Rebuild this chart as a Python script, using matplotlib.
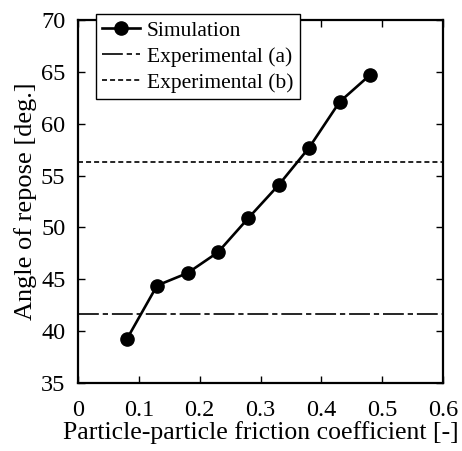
import matplotlib
matplotlib.use("Agg")
import matplotlib.pyplot as plt

friction = [0.08, 0.13, 0.18, 0.23, 0.28, 0.33, 0.38, 0.43, 0.48]
angle = [39.2, 44.4, 45.6, 47.6, 50.9, 54.1, 57.7, 62.1, 64.7]
exp_a = 41.7
exp_b = 56.3
xticks = [0, 0.1, 0.2, 0.3, 0.4, 0.5, 0.6]
xticklabels = ["0", "0.1", "0.2", "0.3", "0.4", "0.5", "0.6"]
yticks = [35, 40, 45, 50, 55, 60, 65, 70]

plt.rcParams['font.family'] = ['Liberation Serif', 'DejaVu Serif']
plt.rcParams['lines.scale_dashes'] = False

fig = plt.figure(figsize=(4.62, 4.51), dpi=100)
ax = fig.add_axes([78/462, 1-383/451, (443-78)/462, (383-20)/451])

ax.plot(friction, angle, color='black', lw=1.9, marker='o', ms=9.5, label='Simulation')
ax.axhline(exp_a, color='black', lw=1.2, dashes=(15, 2.8, 3.8, 2.8), label='Experimental (a)')
ax.axhline(exp_b, color='black', lw=1.2, dashes=(3.6, 2.2), label='Experimental (b)')

ax.set_xlim(0, 0.6)
ax.set_ylim(35, 70)
ax.set_xticks(xticks)
ax.set_xticklabels(xticklabels)
ax.set_yticks(yticks)
ax.tick_params(direction='in', top=True, right=True, labelsize=17.5, length=5, width=1)
ax.tick_params(axis='x', pad=12)
ax.tick_params(axis='y', pad=9)
for s in ax.spines.values():
    s.set_linewidth(1.6)

ax.set_xlabel('Particle-particle friction coefficient [-]', fontsize=18.5, labelpad=0)
ax.set_ylabel('Angle of repose [deg.]', fontsize=19, labelpad=3)

leg = ax.legend(loc='upper left', bbox_to_anchor=(96/462, 1-14/451), bbox_transform=fig.transFigure,
                fontsize=15.5, frameon=True, fancybox=False, edgecolor='black', framealpha=1,
                borderaxespad=0, handlelength=1.75, handletextpad=0.3, borderpad=0.3, labelspacing=0.28)
leg.get_frame().set_linewidth(1.0)

fig.savefig('out.png', dpi=100)
